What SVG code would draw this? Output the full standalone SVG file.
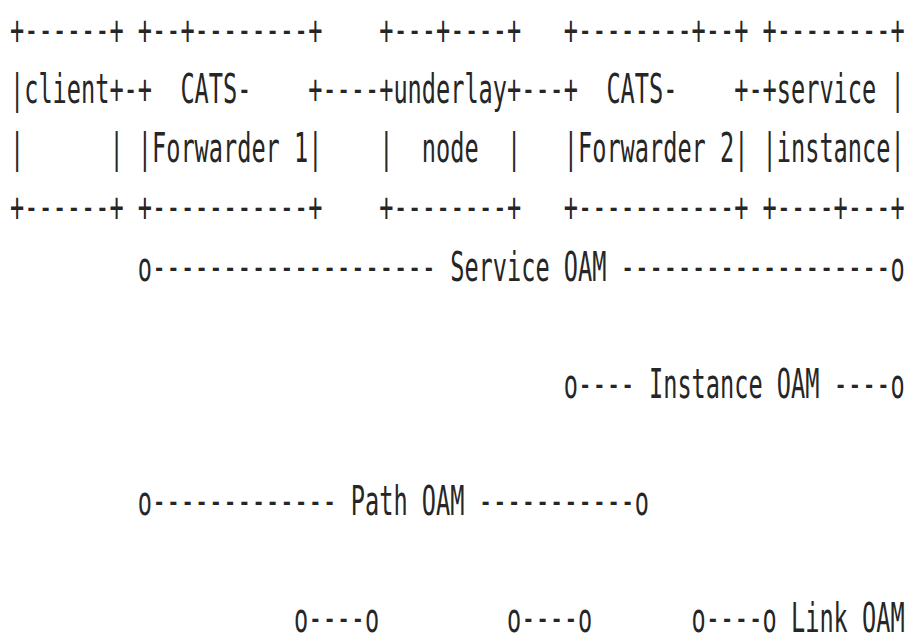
<svg xmlns="http://www.w3.org/2000/svg" width="910" height="636" viewBox="0 0 910 636">
<style>
text{font-family:"DejaVu Sans Mono","Liberation Mono",monospace;font-size:40px;fill:#262626}
</style>
<rect width="910" height="636" fill="#ffffff"/>
<g id="client">
<text x="10" y="44" textLength="113.6" lengthAdjust="spacingAndGlyphs">+------+</text>
<text x="10" y="103" textLength="113.6" lengthAdjust="spacingAndGlyphs">|client+</text>
<text x="10" y="162" textLength="14.2" lengthAdjust="spacingAndGlyphs">|</text>
<text x="109.4" y="162" textLength="14.2" lengthAdjust="spacingAndGlyphs">|</text>
<text x="10" y="220.5" textLength="113.6" lengthAdjust="spacingAndGlyphs">+------+</text>
</g>
<g id="cats-forwarder-1">
<text x="137.8" y="44" textLength="184.6" lengthAdjust="spacingAndGlyphs">+--+--------+</text>
<text x="137.8" y="103" textLength="14.2" lengthAdjust="spacingAndGlyphs">+</text>
<text x="180.4" y="103" textLength="71" lengthAdjust="spacingAndGlyphs">CATS-</text>
<text x="308.2" y="103" textLength="14.2" lengthAdjust="spacingAndGlyphs">+</text>
<text x="137.8" y="162" textLength="184.6" lengthAdjust="spacingAndGlyphs">|Forwarder 1|</text>
<text x="137.8" y="220.5" textLength="184.6" lengthAdjust="spacingAndGlyphs">+-----------+</text>
</g>
<g id="underlay-node">
<text x="379.2" y="44" textLength="142" lengthAdjust="spacingAndGlyphs">+---+----+</text>
<text x="379.2" y="103" textLength="142" lengthAdjust="spacingAndGlyphs">+underlay+</text>
<text x="379.2" y="162" textLength="14.2" lengthAdjust="spacingAndGlyphs">|</text>
<text x="421.8" y="162" textLength="56.8" lengthAdjust="spacingAndGlyphs">node</text>
<text x="507" y="162" textLength="14.2" lengthAdjust="spacingAndGlyphs">|</text>
<text x="379.2" y="220.5" textLength="142" lengthAdjust="spacingAndGlyphs">+--------+</text>
</g>
<g id="cats-forwarder-2">
<text x="563.8" y="44" textLength="184.6" lengthAdjust="spacingAndGlyphs">+--------+--+</text>
<text x="563.8" y="103" textLength="14.2" lengthAdjust="spacingAndGlyphs">+</text>
<text x="606.4" y="103" textLength="71" lengthAdjust="spacingAndGlyphs">CATS-</text>
<text x="734.2" y="103" textLength="14.2" lengthAdjust="spacingAndGlyphs">+</text>
<text x="563.8" y="162" textLength="184.6" lengthAdjust="spacingAndGlyphs">|Forwarder 2|</text>
<text x="563.8" y="220.5" textLength="184.6" lengthAdjust="spacingAndGlyphs">+-----------+</text>
</g>
<g id="service-instance">
<text x="762.6" y="44" textLength="142" lengthAdjust="spacingAndGlyphs">+--------+</text>
<text x="762.6" y="103" textLength="113.6" lengthAdjust="spacingAndGlyphs">+service</text>
<text x="890.4" y="103" textLength="14.2" lengthAdjust="spacingAndGlyphs">|</text>
<text x="762.6" y="162" textLength="142" lengthAdjust="spacingAndGlyphs">|instance|</text>
<text x="762.6" y="220.5" textLength="142" lengthAdjust="spacingAndGlyphs">+----+---+</text>
</g>
<g id="connectors">
<text x="123.6" y="103" textLength="14.2" lengthAdjust="spacingAndGlyphs">-</text>
<text x="322.4" y="103" textLength="56.8" lengthAdjust="spacingAndGlyphs">----</text>
<text x="521.2" y="103" textLength="42.6" lengthAdjust="spacingAndGlyphs">---</text>
<text x="748.4" y="103" textLength="14.2" lengthAdjust="spacingAndGlyphs">-</text>
</g>
<g id="oam">
<g id="service-oam">
<text x="137.8" y="281" textLength="298.2" lengthAdjust="spacingAndGlyphs">o--------------------</text>
<text x="450.2" y="281" textLength="156.2" lengthAdjust="spacingAndGlyphs">Service OAM</text>
<text x="620.6" y="281" textLength="284" lengthAdjust="spacingAndGlyphs">-------------------o</text>
</g>
<g id="instance-oam">
<text x="563.8" y="398" textLength="71" lengthAdjust="spacingAndGlyphs">o----</text>
<text x="649" y="398" textLength="170.4" lengthAdjust="spacingAndGlyphs">Instance OAM</text>
<text x="833.6" y="398" textLength="71" lengthAdjust="spacingAndGlyphs">----o</text>
</g>
<g id="path-oam">
<text x="137.8" y="515" textLength="198.8" lengthAdjust="spacingAndGlyphs">o-------------</text>
<text x="350.8" y="515" textLength="113.6" lengthAdjust="spacingAndGlyphs">Path OAM</text>
<text x="478.6" y="515" textLength="170.4" lengthAdjust="spacingAndGlyphs">-----------o</text>
</g>
<g id="link-oam">
<text x="294" y="632" textLength="85.2" lengthAdjust="spacingAndGlyphs">o----o</text>
<text x="507" y="632" textLength="85.2" lengthAdjust="spacingAndGlyphs">o----o</text>
<text x="691.6" y="632" textLength="85.2" lengthAdjust="spacingAndGlyphs">o----o</text>
<text x="791" y="632" textLength="113.6" lengthAdjust="spacingAndGlyphs">Link OAM</text>
</g>
</g>
</svg>
